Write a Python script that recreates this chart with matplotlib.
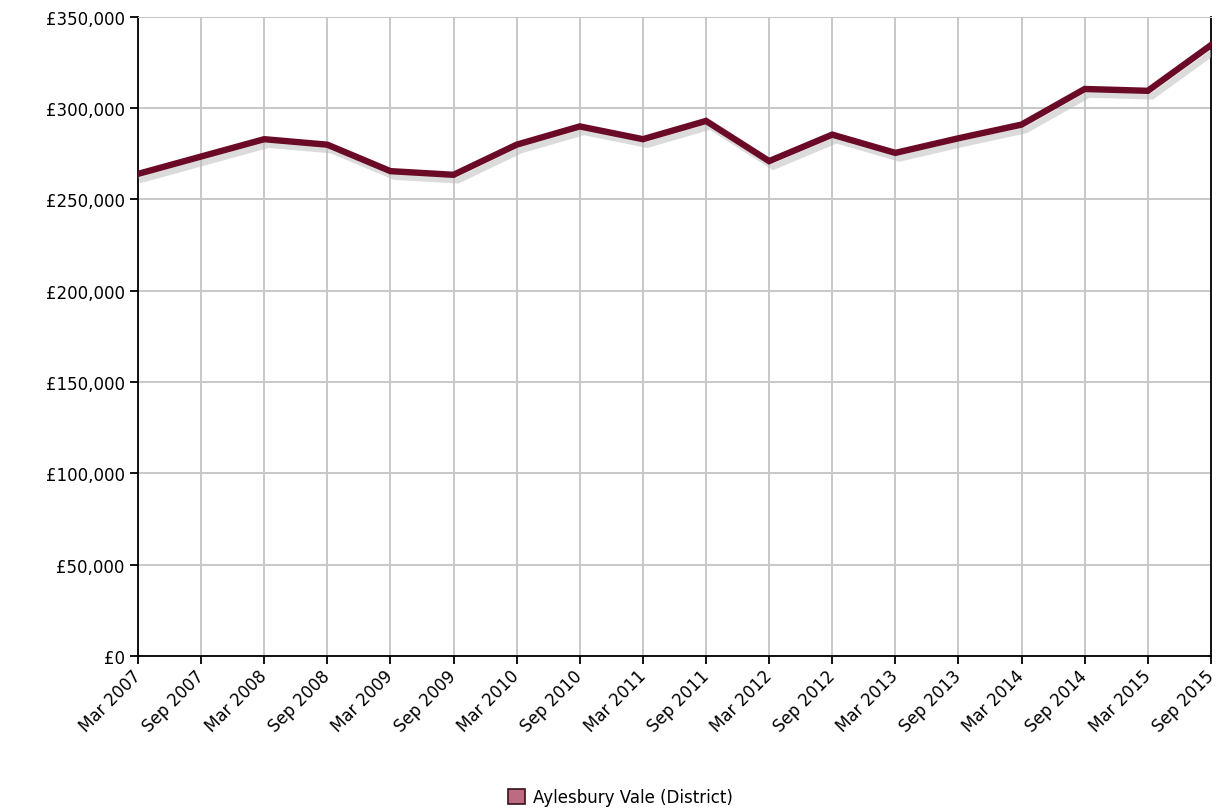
import matplotlib
matplotlib.use("Agg")
import matplotlib.pyplot as plt
import matplotlib.patheffects as pe
from matplotlib.patches import Patch
from matplotlib.ticker import FuncFormatter, MultipleLocator

# median price, Aylesbury Vale (District)
periods = ["Mar 2007", "Sep 2007", "Mar 2008", "Sep 2008", "Mar 2009", "Sep 2009",
           "Mar 2010", "Sep 2010", "Mar 2011", "Sep 2011", "Mar 2012", "Sep 2012",
           "Mar 2013", "Sep 2013", "Mar 2014", "Sep 2014", "Mar 2015", "Sep 2015"]
prices = [264000, 273500, 283000, 280000, 265500, 263500,
          280000, 290000, 283000, 293000, 271000, 285500,
          275500, 283500, 291000, 310500, 309500, 334500]

line_col = "#6b0a26"

fig = plt.figure(figsize=(12.17, 8.12), dpi=100)
ax = fig.add_axes([0.1134, 0.191, 0.8816, 0.787])

x = range(len(periods))
ax.plot(x, prices, color=line_col, linewidth=4.6, solid_joinstyle="miter", zorder=3,
        path_effects=[pe.SimpleLineShadow(offset=(3, -4), shadow_color="#b8b8b8", alpha=0.5),
                      pe.Normal()])

ax.set_xlim(0, len(periods) - 1)
ax.set_ylim(0, 350000)
ax.yaxis.set_major_locator(MultipleLocator(50000))
ax.yaxis.set_major_formatter(FuncFormatter(lambda v, p: "£{:,.0f}".format(v)))
ax.set_xticks(list(x))
ax.set_xticklabels(periods, rotation=45, ha="right", va="center", rotation_mode="anchor")

ax.grid(True, color="#c8c8c8", linewidth=1.4)
ax.set_axisbelow(True)
for s in ["left", "bottom", "right"]:
    ax.spines[s].set_color("black")
    ax.spines[s].set_linewidth(1.3)
ax.spines["top"].set_color("#c8c8c8")
ax.tick_params(axis="both", direction="out", length=6, width=1.3, labelsize=12, colors="black")
ax.tick_params(axis="x", pad=6)

leg_patch = Patch(facecolor="#bd6b82", edgecolor="#3a1018", linewidth=1.2,
                  label="Aylesbury Vale (District)")
fig.legend(handles=[leg_patch], loc="center", bbox_to_anchor=(0.51, 0.017),
           frameon=False, fontsize=12, handlelength=1.0, handleheight=1.0,
           handletextpad=0.5)

fig.savefig("out.png", dpi=100)
